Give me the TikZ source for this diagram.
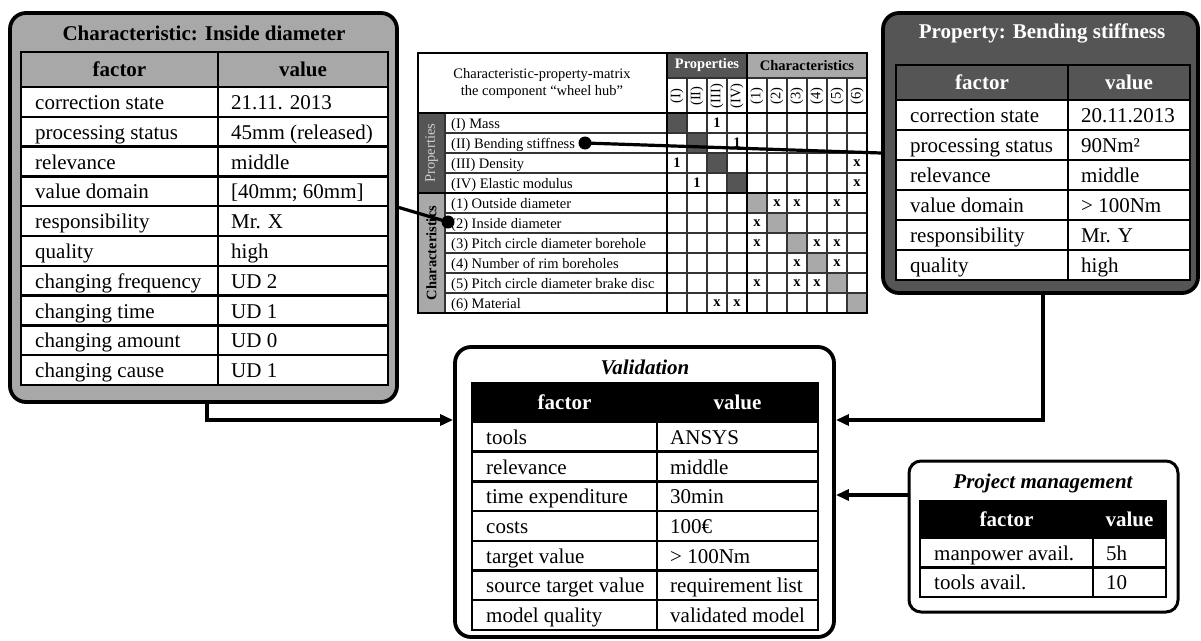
\documentclass[tikz,border=0pt]{standalone}
\usepackage{fontspec}
\setmainfont{Liberation Serif}
\usetikzlibrary{arrows.meta}
\definecolor{lgray}{HTML}{A8A8A8}
\definecolor{dgray}{HTML}{555555}
\definecolor{mgray}{HTML}{A9A9A9}
\definecolor{ptext}{HTML}{CFCFCF}
\tikzset{
  panel/.style={draw=black, line width=3.8pt, rounded corners=16pt, inner sep=0pt},
  tline/.style={draw=black, line width=2.5pt},
  ftext/.style={font=\fontsize{21}{24}\selectfont, inner sep=0pt},
  htext/.style={font=\bfseries\fontsize{21}{24}\selectfont, inner sep=0pt},
  ttext/.style={font=\bfseries\fontsize{21}{24}\selectfont, inner sep=0pt},
  titext/.style={font=\bfseries\itshape\fontsize{21}{24}\selectfont, inner sep=0pt},
  mtext/.style={font=\fontsize{14.5}{17}\selectfont, inner sep=0pt},
  mbold/.style={font=\bfseries\fontsize{14.5}{17}\selectfont, inner sep=0pt},
  mline/.style={draw=black!80, line width=1.4pt},
  mthick/.style={draw=black, line width=2.6pt},
  conn/.style={draw=black, line width=3.2pt},
  arr/.style={conn, -{Triangle[length=13pt,width=11pt]}},
  dotn/.style={circle, fill=black, minimum size=13pt, inner sep=0pt},
}
\newcommand\mkhead[3]{%
  \draw[tline,fill=#2] (\xL,\yH) rectangle (\xR,\yR);
  \draw[tline] (\xM,\yH) -- (\xM,\yR);
  \node[htext,text=#3] (#1hf) at ({(\xL+\xM)/2},{(\yH+\yR)/2}) {factor};
  \node[htext,text=#3] (#1hv) at ({(\xM+\xR)/2},{(\yH+\yR)/2}) {value};
}
\newcommand\mkrows[2]{%
  \foreach \fa/\va [count=\i] in {#2}{%
    \pgfmathsetmacro\ya{\yR+(\i-1)*\rh}
    \pgfmathsetmacro\yb{\ya+\rh}
    \pgfmathsetmacro\yc{\ya+\rh/2+7.5}
    \draw[tline,fill=white] (\xL,\ya) rectangle (\xR,\yb);
    \draw[tline] (\xM,\ya) -- (\xM,\yb);
    \node[ftext,anchor=base west] (#1f\i) at (\xL+14,\yc) {\fa};
    \node[ftext,anchor=base west] (#1v\i) at (\xM+13,\yc) {\va};
  }}
\begin{document}
\begin{tikzpicture}[x=1pt,y=-1pt]
\useasboundingbox (0,0) rectangle (1201,640);
\fill[white] (0,0) rectangle (1201,640);

% ---------- left panel ----------
\node[panel, fill=lgray, minimum width=387pt, minimum height=389pt] (left) at (203.5,207.5) {};
\node[ttext] (lefttitle) at (204,33) {Characteristic: Inside diameter};
\def\xL{21}\def\xM{218}\def\xR{388}\def\yH{52}\def\yR{87}\def\rh{29.8}
\mkhead{L}{lgray}{black}
\mkrows{L}{correction state/21.11. 2013, processing status/45mm (released), relevance/middle, value domain/{[40mm; 60mm]}, responsibility/Mr. X, quality/high, changing frequency/UD 2, changing time/UD 1, changing amount/UD 0, changing cause/UD 1}

% ---------- right panel ----------
\node[panel, fill=dgray, minimum width=315pt, minimum height=280pt] (right) at (1040.5,153) {};
\node[ttext, text=white] (righttitle) at (1042,33) {Property: Bending stiffness};
\def\xL{896}\def\xM{1068}\def\xR{1190}\def\yH{65}\def\yR{100}\def\rh{30}
\mkhead{R}{dgray}{white}
\mkrows{R}{correction state/20.11.2013, processing status/90Nm², relevance/middle, value domain/> 100Nm, responsibility/Mr. Y, quality/high}

% ---------- validation panel ----------
\node[panel, fill=white, minimum width=379pt, minimum height=290pt] (val) at (644.5,492) {};
\node[titext] (valtitle) at (645,367) {Validation};
\def\xL{472}\def\xM{657}\def\xR{818}\def\yH{383}\def\yR{422}\def\rh{29.7}
\mkhead{V}{black}{white}
\mkrows{V}{tools/ANSYS, relevance/middle, time expenditure/30min, costs/100€, target value/> 100Nm, source target value/requirement list, model quality/validated model}

% ---------- project management panel ----------
\node[panel, fill=white, line width=3pt, rounded corners=12pt, minimum width=269pt, minimum height=151pt] (pm) at (1043.5,536.5) {};
\node[titext] (pmtitle) at (1043,483) {Project management};
\def\xL{920}\def\xM{1093}\def\xR{1166}\def\yH{501}\def\yR{538}\def\rh{29.5}
\mkhead{P}{black}{white}
\mkrows{P}{manpower avail./5h, tools avail./10}

% ---------- matrix ----------
\fill[white] (418,53) rectangle (867,313);
\fill[dgray] (667,53) rectangle (747,78);
\fill[mgray] (747,53) rectangle (867,78);
\fill[dgray] (418,113) rectangle (445,193);
\fill[mgray] (418,193) rectangle (445,313);
\foreach \k in {1,...,4} \fill[dgray] ({667+20*(\k-1)},{113+20*(\k-1)}) rectangle ++(20,20);
\foreach \k in {5,...,10} \fill[mgray] ({667+20*(\k-1)},{113+20*(\k-1)}) rectangle ++(20,20);
\foreach \k in {1,...,9} \draw[mline] ({667+20*\k},78) -- ({667+20*\k},313);
\draw[mline] (667,78) -- (867,78);
\foreach \r in {1,2,3,5,6,7,8,9} \draw[mline] (445,{113+20*\r}) -- (867,{113+20*\r});
\draw[mline] (445,113) -- (445,313);
\draw[mthick] (667,53) -- (667,313);
\draw[mthick] (747,53) -- (747,313);
\draw[mthick] (418,113) -- (867,113);
\draw[mthick] (418,193) -- (867,193);
\draw[mthick] (418,53) rectangle (867,313);

\node[mtext, align=center] (mhead) at (542,84) {Characteristic-property-matrix\\the component “wheel hub”};
\node[mbold, text=white] (mprop) at (707,65.5) {Properties};
\node[mbold] (mchar) at (807,65.5) {Characteristics};
\node[mtext, text=ptext, rotate=90] (mbandp) at (431.5,153) {Properties};
\node[mbold, rotate=90] (mbandc) at (431.5,253) {Characteristics};
\foreach \t [count=\i] in {(I),(II),(III),(IV),(1),(2),(3),(4),(5),(6)}
  \node[mtext, rotate=90] (mc\i) at ({657+20*\i},96) {\t};
\foreach \t [count=\i] in {(I) Mass, (II) Bending stiffness, (III) Density, (IV) Elastic modulus, (1) Outside diameter, (2) Inside diameter, (3) Pitch circle diameter borehole, (4) Number of rim boreholes, (5) Pitch circle diameter brake disc, (6) Material}
  \node[mtext, anchor=base west] (mr\i) at (451,{113+20*\i-5}) {\t};
\foreach \r/\c/\t in {1/3/1, 2/4/1, 3/1/1, 4/2/1, 3/10/x, 4/10/x, 5/6/x, 5/7/x, 5/9/x, 6/5/x, 7/5/x, 7/8/x, 7/9/x, 8/7/x, 8/9/x, 9/5/x, 9/7/x, 9/8/x, 10/3/x, 10/4/x}
  \node[mbold] (me\r-\c) at ({657+20*\c},{103+20*\r}) {\t};

% ---------- dots and connectors ----------
\node[dotn] (d1) at (585,143) {};
\node[dotn] (d2) at (448,222) {};
\draw[conn] (d1.center) -- (right.west);
\draw[conn] (d2.center) -- (left.east);

\coordinate (jl) at (207,420);
\coordinate (jr) at (1043,420);
\coordinate (jp) at (909,495);
\draw[arr] (left.south -| jl) -- (jl) -- (jl -| val.west);
\draw[arr] (right.south -| jr) -- (jr) -- (jr -| val.east);
\draw[arr] (jp) -- (jp -| val.east);
\end{tikzpicture}
\end{document}
